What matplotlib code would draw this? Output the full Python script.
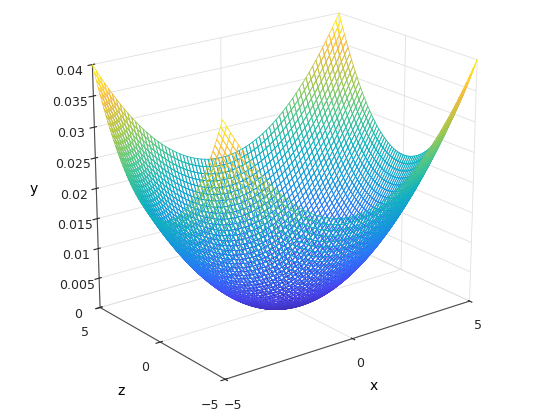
import numpy as np
import matplotlib
matplotlib.use("Agg")
import matplotlib.pyplot as plt
from matplotlib.colors import LinearSegmentedColormap, Normalize

# grid and surface coefficient y = k * (x^2 + z^2)
x_values = np.linspace(-5, 5, 71)
z_values = np.linspace(-5, 5, 71)
coef = 0.0008
x_ticks = [-5, 0, 5]
z_ticks = [-5, 0, 5]
y_ticks = [0, 0.005, 0.01, 0.015, 0.02, 0.025, 0.03, 0.035, 0.04]
y_tick_labels = ["0", "0.005", "0.01", "0.015", "0.02", "0.025", "0.03", "0.035", "0.04"]

parula = LinearSegmentedColormap.from_list("parula", [
    (0.24, 0.15, 0.66), (0.28, 0.28, 0.95), (0.17, 0.46, 0.98), (0.08, 0.60, 0.86),
    (0.07, 0.70, 0.75), (0.30, 0.78, 0.54), (0.68, 0.78, 0.28), (0.99, 0.73, 0.24),
    (0.98, 0.98, 0.05)])

X, Z = np.meshgrid(x_values, z_values)
Y = coef * (X ** 2 + Z ** 2)
norm = Normalize(0, Y.max())
# colour of each cell from the mean of its corners
cell = 0.25 * (Y[:-1, :-1] + Y[1:, :-1] + Y[:-1, 1:] + Y[1:, 1:])
cell_colors = parula(norm(cell))

fig = plt.figure(figsize=(5.6, 4.2), dpi=100)
ax = fig.add_axes([0.0, 0.065, 1.0, 0.96], projection="3d")
surf = ax.plot_surface(X, Z, Y, rstride=1, cstride=1, facecolors=cell_colors,
                       shade=False, linewidth=0.6)
surf.set_facecolor((0, 0, 0, 0))
surf.set_edgecolor(cell_colors.reshape(-1, 4))

ax.set_xlim(-5, 5)
ax.set_ylim(-5, 5)
ax.set_zlim(0, 0.04)
ax.set_xticks(x_ticks)
ax.set_yticks(z_ticks)
ax.set_zticks(y_ticks)
ax.set_zticklabels(y_tick_labels)
ax.set_xlabel("x", labelpad=2)
ax.set_ylabel("z", labelpad=2)
ax.set_zlabel("y")
ax.view_init(elev=20, azim=-127.5)
ax.set_box_aspect((1.5, 1.05, 1.25), zoom=1.1)
for axis in (ax.xaxis, ax.yaxis, ax.zaxis):
    axis.set_pane_color((1, 1, 1, 0))
    axis._axinfo["grid"]["color"] = (0.88, 0.88, 0.88, 1)
    axis._axinfo["grid"]["linewidth"] = 0.6
    axis.line.set_color((0.3, 0.3, 0.3))
ax.tick_params(labelsize=9, colors=(0.15, 0.15, 0.15), pad=1)
fig.savefig("out.png", dpi=100)
